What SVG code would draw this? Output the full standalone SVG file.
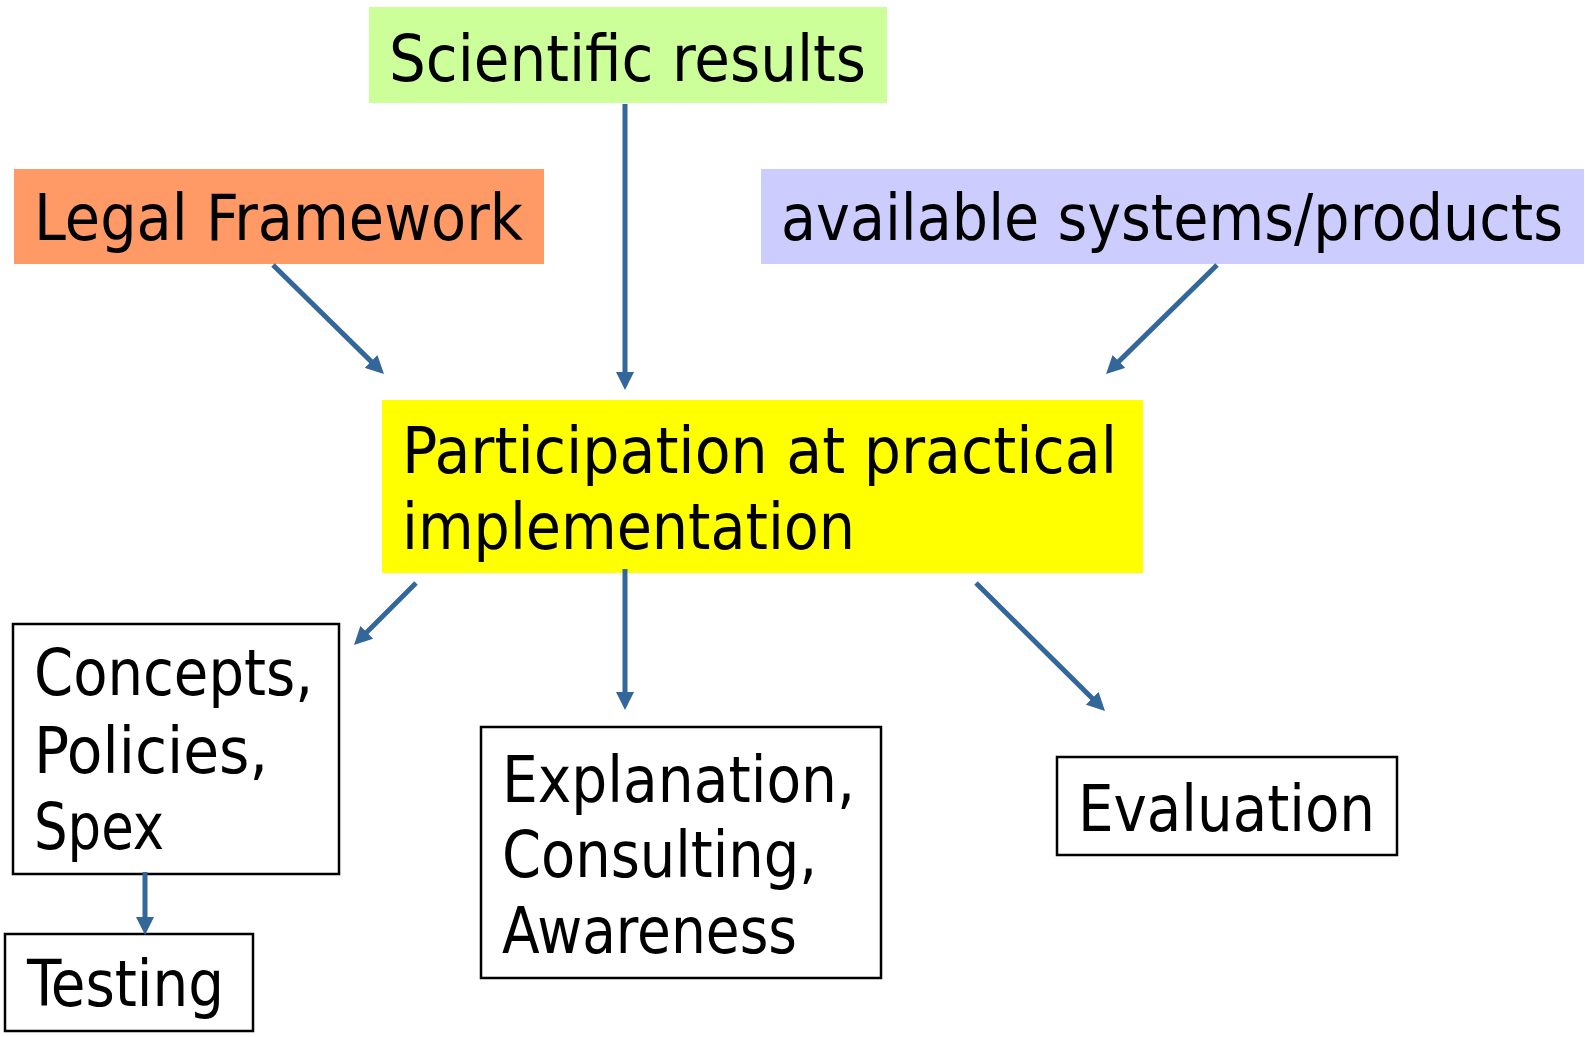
<svg xmlns="http://www.w3.org/2000/svg" width="1585" height="1037" viewBox="0 0 1585 1037">
<style>
.t{font-family:"DejaVu Sans Condensed","DejaVu Sans",Tahoma,sans-serif;font-size:64px;fill:#000}
.box{fill:#fff;stroke:#000;stroke-width:2.5}
.conn line{stroke:#336699;stroke-width:5;fill:none}
</style>
<defs>
<marker id="ah" markerUnits="userSpaceOnUse" markerWidth="18" markerHeight="18" viewBox="0 0 18 18" refX="6" refY="9" orient="auto">
<path d="M0,0 L18,9 L0,18 Z" fill="#336699"/>
</marker>
</defs>
<rect width="1585" height="1037" fill="#fff"/>
<g id="scientific">
<rect x="369" y="7" width="518" height="96" fill="#CCFF99"/>
<text class="t" x="389" y="81" textLength="477" lengthAdjust="spacingAndGlyphs">Scientific results</text>
</g>
<g id="legal">
<rect x="14" y="169" width="530" height="95" fill="#FF9966"/>
<text class="t" x="34" y="240" textLength="489" lengthAdjust="spacingAndGlyphs">Legal Framework</text>
</g>
<g id="available">
<rect x="761" y="169" width="823" height="95" fill="#CCCCFF"/>
<text class="t" x="781" y="240" textLength="782" lengthAdjust="spacingAndGlyphs">available systems/products</text>
</g>
<g id="participation">
<rect x="382" y="400" width="761" height="173" fill="#FFFF00"/>
<text class="t" x="402" y="473" textLength="715" lengthAdjust="spacingAndGlyphs">Participation at practical</text>
<text class="t" x="402" y="549" textLength="453" lengthAdjust="spacingAndGlyphs">implementation</text>
</g>
<g id="concepts">
<rect class="box" x="13" y="624" width="326" height="250"/>
<text class="t" x="34" y="695" textLength="279" lengthAdjust="spacingAndGlyphs">Concepts,</text>
<text class="t" x="34" y="773" textLength="234" lengthAdjust="spacingAndGlyphs">Policies,</text>
<text class="t" x="34" y="849" textLength="130" lengthAdjust="spacingAndGlyphs">Spex</text>
</g>
<g id="testing">
<rect class="box" x="5" y="934" width="248" height="97"/>
<text class="t" x="27" y="1006" textLength="197" lengthAdjust="spacingAndGlyphs">Testing</text>
</g>
<g id="explanation">
<rect class="box" x="481" y="727" width="400" height="251"/>
<text class="t" x="502" y="802" textLength="353" lengthAdjust="spacingAndGlyphs">Explanation,</text>
<text class="t" x="502" y="877" textLength="315" lengthAdjust="spacingAndGlyphs">Consulting,</text>
<text class="t" x="502" y="953" textLength="295" lengthAdjust="spacingAndGlyphs">Awareness</text>
</g>
<g id="evaluation">
<rect class="box" x="1057" y="757" width="340" height="98"/>
<text class="t" x="1078" y="831" textLength="297" lengthAdjust="spacingAndGlyphs">Evaluation</text>
</g>
<g class="conn" id="connectors">
<line x1="273" y1="265" x2="375.4" y2="365.6" marker-end="url(#ah)"/>
<line x1="625" y1="104" x2="625" y2="378" marker-end="url(#ah)"/>
<line x1="1217" y1="265" x2="1114.6" y2="365.6" marker-end="url(#ah)"/>
<line x1="416" y1="583" x2="362.5" y2="636.5" marker-end="url(#ah)"/>
<line x1="625" y1="569" x2="625" y2="698" marker-end="url(#ah)"/>
<line x1="976" y1="583" x2="1096.5" y2="702.5" marker-end="url(#ah)"/>
<line x1="145" y1="872" x2="145" y2="923" marker-end="url(#ah)"/>
</g>
</svg>
